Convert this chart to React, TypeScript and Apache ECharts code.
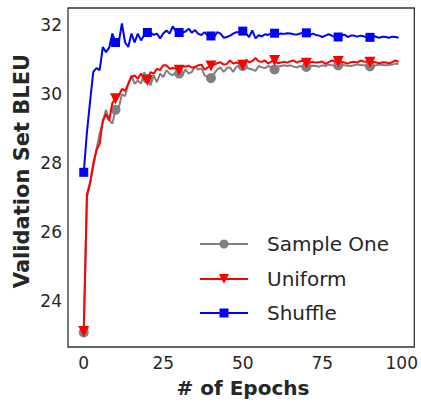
import React, { useEffect, useRef } from "react";
import * as echarts from "echarts";

const epochs: number[] = Array.from({ length: 100 }, (_, i) => i);

const sampleOne: number[] = [
  23.1, 27.0, 27.4, 27.9, 28.4, 28.86, 29.2, 29.55, 29.25, 29.15,
  29.55, 29.6, 30.0, 29.95, 30.3, 30.55, 30.3, 30.4, 30.31, 30.64,
  30.45, 30.26, 30.55, 30.35, 30.6, 30.5, 30.7, 30.6, 30.55, 30.65,
  30.6, 30.55, 30.72, 30.6, 30.65, 30.8, 30.72, 30.75, 30.55, 30.5,
  30.47, 30.6, 30.72, 30.78, 30.65, 30.76, 30.78, 30.65, 30.8, 30.84,
  30.82, 30.8, 30.74, 30.72, 30.68, 30.82, 30.78, 30.76, 30.82, 30.78,
  30.72, 30.8, 30.82, 30.84, 30.82, 30.84, 30.8, 30.78, 30.82, 30.8,
  30.79, 30.81, 30.83, 30.82, 30.8, 30.84, 30.82, 30.86, 30.84, 30.83,
  30.84, 30.85, 30.84, 30.83, 30.82, 30.84, 30.86, 30.85, 30.84, 30.83,
  30.81, 30.82, 30.84, 30.86, 30.85, 30.84, 30.85, 30.86, 30.89, 30.88,
];

const uniform: number[] = [
  23.13, 27.1, 27.45, 28.0, 28.38, 28.57, 29.24, 29.42, 29.24, 29.75,
  29.87, 29.95, 30.16, 30.1, 30.3, 30.5, 30.55, 30.45, 30.6, 30.45,
  30.4, 30.64, 30.6, 30.74, 30.7, 30.84, 30.84, 30.74, 30.76, 30.74,
  30.7, 30.82, 30.8, 30.83, 30.77, 30.8, 30.84, 30.86, 30.71, 30.78,
  30.82, 30.86, 30.9, 30.93, 30.86, 30.88, 30.98, 30.89, 30.92, 30.9,
  30.84, 31.0, 30.93, 30.96, 31.05, 30.96, 30.94, 30.98, 30.89, 30.95,
  30.98, 30.9, 30.92, 30.94, 30.92, 30.96, 30.98, 30.92, 30.96, 30.97,
  30.9, 30.92, 30.94, 30.92, 30.93, 30.95, 30.88, 30.93, 30.98, 30.95,
  30.95, 30.94, 30.92, 30.89, 30.93, 30.94, 30.92, 30.98, 30.95, 30.94,
  30.93, 30.94, 30.92, 30.9, 30.93, 30.92, 30.9, 30.93, 30.98, 30.94,
];

const shuffle: number[] = [
  27.74, 28.9, 29.8, 30.65, 30.76, 30.7, 31.37, 31.22, 31.35, 31.76,
  31.5, 31.5, 32.05, 31.5, 31.37, 31.76, 31.5, 31.76, 31.56, 31.72,
  31.79, 31.78, 31.72, 31.76, 31.62, 31.76, 31.85, 31.76, 31.97, 31.82,
  31.79, 31.79, 31.82, 31.9, 31.78, 31.86, 31.75, 31.72, 31.8, 31.7,
  31.69, 31.66, 31.8, 31.76, 31.64, 31.66, 31.7, 31.76, 31.8, 31.8,
  31.83, 31.76, 31.66, 31.85, 31.62, 31.71, 31.68, 31.74, 31.72, 31.77,
  31.77, 31.74, 31.76, 31.75, 31.77, 31.76, 31.74, 31.73, 31.76, 31.78,
  31.78, 31.71, 31.76, 31.72, 31.7, 31.66, 31.7, 31.74, 31.7, 31.66,
  31.66, 31.7, 31.73, 31.66, 31.7, 31.7, 31.67, 31.7, 31.68, 31.65,
  31.65, 31.7, 31.66, 31.64, 31.67, 31.66, 31.64, 31.67, 31.66, 31.64,
];

const xTicks: number[] = [0, 25, 50, 75, 100];
const yTicks: number[] = [24, 26, 28, 30, 32];
const seriesNames: string[] = ["Sample One", "Uniform", "Shuffle"];

const FONT = "'DejaVu Sans', 'Open Sans', sans-serif";
const TEXT = "#262626";

function makeData(vals: number[], symbol: string) {
  return vals.map((v, i) => ({
    value: [epochs[i], v],
    symbol: i % 10 === 0 ? symbol : "none",
  }));
}

export default function App() {
  const ref = useRef<HTMLDivElement>(null);
  useEffect(() => {
    if (!ref.current) return;
    const chart = echarts.init(ref.current, undefined, { renderer: "svg" });
    const legendRows = [
      { name: seriesNames[0], color: "#808080", y: 244, marker: "circle" },
      { name: seriesNames[1], color: "#ff0000", y: 279, marker: "tri" },
      { name: seriesNames[2], color: "#0000ff", y: 313, marker: "rect" },
    ];
    const legendGraphics: any[] = [];
    legendRows.forEach((r) => {
      legendGraphics.push({
        type: "line",
        shape: { x1: 200, y1: r.y, x2: 248, y2: r.y },
        style: { stroke: r.color, lineWidth: 2 },
      });
      if (r.marker === "circle") {
        legendGraphics.push({
          type: "circle",
          shape: { cx: 224, cy: r.y, r: 4.5 },
          style: { fill: r.color },
        });
      } else if (r.marker === "tri") {
        legendGraphics.push({
          type: "polygon",
          shape: { points: [[219, r.y - 5], [229, r.y - 5], [224, r.y + 5]] },
          style: { fill: r.color },
        });
      } else {
        legendGraphics.push({
          type: "rect",
          shape: { x: 219.5, y: r.y - 4.5, width: 9, height: 9 },
          style: { fill: r.color },
        });
      }
      legendGraphics.push({
        type: "text",
        x: 267,
        y: r.y,
        style: {
          text: r.name,
          fill: TEXT,
          font: `20px ${FONT}`,
          verticalAlign: "middle",
          align: "left",
        },
      });
    });

    chart.setOption({
      animation: false,
      backgroundColor: "#ffffff",
      grid: {
        left: 68,
        top: 8,
        width: 349,
        height: 339,
        show: true,
        borderColor: "#333333",
        borderWidth: 1.3,
        containLabel: false,
      },
      xAxis: {
        type: "value",
        min: -4.95,
        max: 103.95,
        axisLine: { show: false },
        axisTick: { show: false },
        splitLine: { show: false },
        axisLabel: {
          customValues: xTicks,
          color: TEXT,
          fontSize: 17,
          fontFamily: FONT,
          margin: 7,
        },
      },
      yAxis: {
        type: "value",
        min: 22.68,
        max: 32.5,
        axisLine: { show: false },
        axisTick: { show: false },
        splitLine: { show: false },
        axisLabel: {
          customValues: yTicks,
          color: TEXT,
          fontSize: 17,
          fontFamily: FONT,
          margin: 6,
        },
      },
      graphic: [
        {
          type: "text",
          x: 22,
          y: 171,
          rotation: Math.PI / 2,
          style: {
            text: "Validation Set BLEU",
            fill: TEXT,
            font: `bold 21px ${FONT}`,
            align: "center",
            verticalAlign: "middle",
          },
        },
        {
          type: "text",
          x: 243,
          y: 388,
          style: {
            text: "# of Epochs",
            fill: TEXT,
            font: `bold 20px ${FONT}`,
            align: "center",
            verticalAlign: "middle",
          },
        },
        ...legendGraphics,
      ],
      series: [
        {
          name: seriesNames[0],
          type: "line",
          data: makeData(sampleOne, "circle"),
          showAllSymbol: true,
          symbolSize: 10,
          lineStyle: { color: "#808080", width: 2 },
          itemStyle: { color: "#808080" },
          z: 2,
        },
        {
          name: seriesNames[1],
          type: "line",
          data: makeData(uniform, "triangle"),
          showAllSymbol: true,
          symbolSize: 11,
          symbolRotate: 180,
          lineStyle: { color: "#ff0000", width: 2 },
          itemStyle: { color: "#ff0000" },
          z: 3,
        },
        {
          name: seriesNames[2],
          type: "line",
          data: makeData(shuffle, "rect"),
          showAllSymbol: true,
          symbolSize: 9,
          lineStyle: { color: "#0000ff", width: 2 },
          itemStyle: { color: "#0000ff" },
          z: 4,
        },
      ],
    });
    return () => chart.dispose();
  }, []);
  return (
    <div
      ref={ref}
      style={{ position: "absolute", left: 0, top: 0, width: 421, height: 403 }}
    />
  );
}
